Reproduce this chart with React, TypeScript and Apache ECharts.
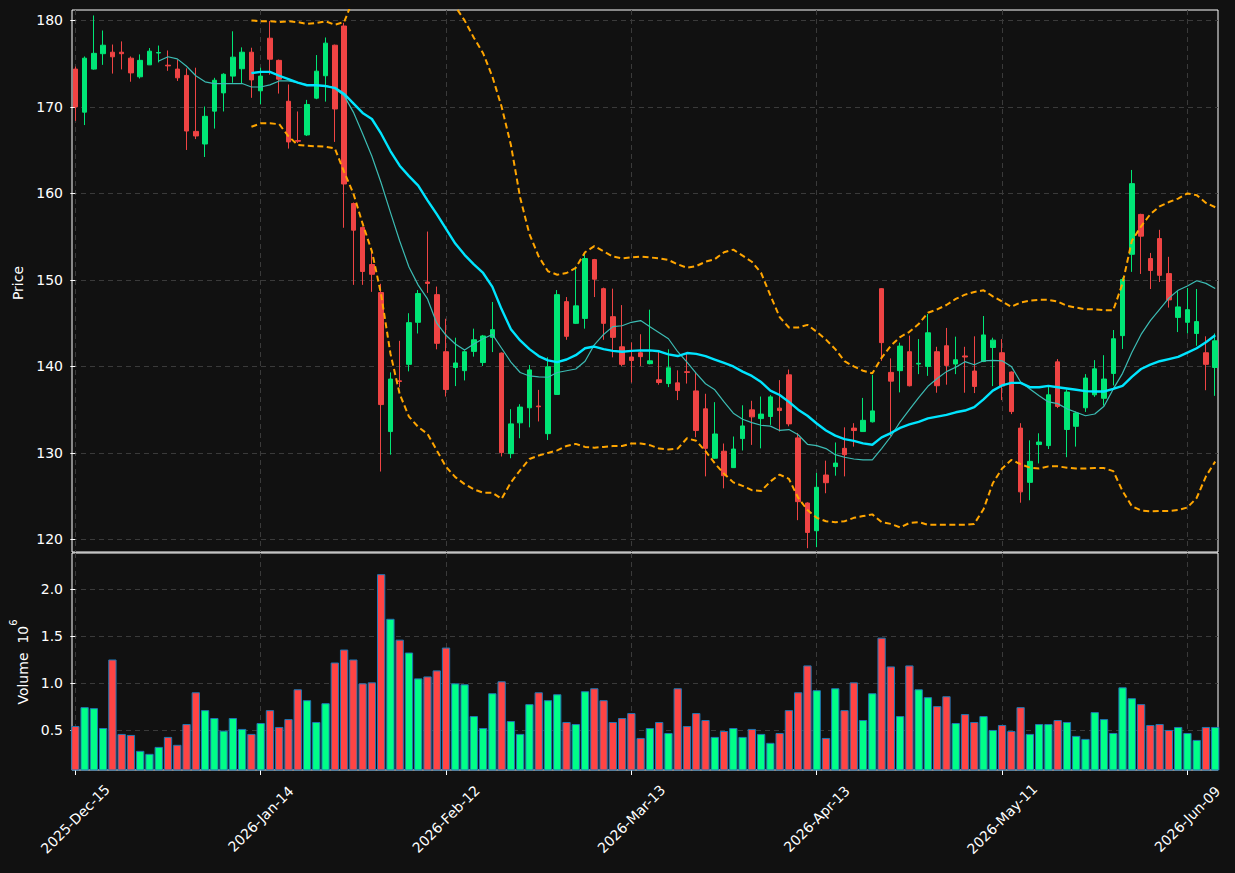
import React, { useEffect, useRef } from 'react';
import * as echarts from 'echarts';

// ---- tick labels (every 20 trading days) ----
const tickIndex = [0, 20, 40, 60, 80, 100, 120];
const tickLabels = ['2025-Dec-15', '2026-Jan-14', '2026-Feb-12', '2026-Mar-13', '2026-Apr-13', '2026-May-11', '2026-Jun-09'];
const priceTicks = [120, 130, 140, 150, 160, 170, 180];
const volumeTicks = [0.5, 1.0, 1.5, 2.0];

// ---- OHLC (trading-day index 0..123) ----
const open = [
  174.37, 169.39, 174.37, 176.15, 176.32, 176.32, 175.63, 173.48, 174.86, 176.23,
  174.82, 174.37, 173.64, 167.17, 165.71, 169.51, 171.62, 173.56, 174.41, 176.32,
  171.86, 177.94, 175.38, 170.65, 166.11, 166.76, 171.01, 173.6, 177.13, 179.35,
  158.83, 156.07, 151.78, 148.54, 132.47, 138.34, 140.24, 145.1, 149.76, 148.3,
  141.7, 139.88, 139.51, 141.74, 140.45, 143.36, 141.54, 129.92, 133.48, 135.22,
  135.42, 132.23, 136.76, 147.49, 144.98, 145.55, 152.35, 148.99, 145.75, 142.27,
  141.09, 141.58, 140.32, 138.46, 138.02, 138.1, 139.39, 137.17, 135.1, 129.39,
  130.2, 128.3, 131.66, 134.98, 133.97, 134.21, 135.18, 139.03, 131.74, 124.21,
  121.01, 127.45, 128.42, 130.53, 132.87, 132.47, 133.6, 148.99, 139.31, 139.51,
  141.7, 140.28, 140.0, 141.7, 142.39, 140.28, 141.21, 139.47, 140.57, 142.19,
  141.58, 139.35, 132.87, 126.6, 130.97, 130.85, 140.53, 132.71, 133.08, 135.22,
  136.72, 136.32, 139.19, 143.56, 152.96, 157.57, 152.47, 154.78, 150.73, 145.67,
  145.1, 143.81, 141.58, 139.88,
];
const high = [
  174.66, 175.83, 180.57, 178.83, 177.21, 177.57, 175.83, 176.07, 176.8, 177.09,
  176.52, 175.47, 174.45, 174.53, 170.04, 173.36, 173.89, 178.74, 176.88, 176.84,
  174.53, 179.92, 175.47, 172.59, 169.47, 170.81, 175.99, 178.02, 177.2, 179.72,
  158.95, 156.15, 153.48, 149.55, 139.31, 142.96, 146.15, 148.83, 155.59, 149.23,
  145.51, 143.32, 141.86, 144.37, 143.64, 147.45, 141.62, 135.06, 135.63, 140.16,
  137.29, 141.05, 148.83, 148.02, 151.54, 153.08, 152.43, 149.11, 148.99, 147.09,
  142.79, 143.72, 146.56, 141.66, 141.98, 139.55, 141.46, 139.23, 136.84, 135.87,
  131.09, 131.9, 135.51, 136.03, 136.52, 136.68, 138.42, 139.64, 132.31, 124.29,
  127.69, 129.11, 131.21, 132.96, 133.44, 136.36, 139.03, 149.05, 140.93, 142.75,
  143.56, 143.16, 146.07, 142.27, 144.45, 143.44, 142.27, 143.48, 145.83, 143.32,
  143.16, 139.43, 133.44, 131.46, 132.27, 137.61, 140.85, 137.33, 134.78, 139.11,
  140.73, 141.3, 144.21, 150.28, 162.71, 157.65, 153.12, 155.79, 152.67, 148.7,
  149.07, 148.95, 143.48, 143.81,
];
const low = [
  168.38, 167.9, 174.3, 174.86, 173.85, 174.33, 172.91, 173.28, 174.86, 175.14,
  174.17, 173.0, 165.02, 166.28, 164.21, 167.49, 169.47, 172.79, 172.71, 171.05,
  170.32, 173.72, 171.54, 165.18, 165.83, 166.64, 170.89, 170.61, 165.95, 156.03,
  149.43, 149.43, 148.62, 127.85, 129.8, 137.61, 139.43, 143.81, 148.5, 141.98,
  136.52, 137.73, 138.38, 141.13, 140.04, 141.66, 129.59, 129.39, 131.7, 132.96,
  133.64, 131.5, 136.7, 143.08, 144.9, 144.37, 148.02, 143.08, 141.05, 140.04,
  138.14, 140.04, 140.24, 137.89, 137.61, 136.11, 138.02, 131.82, 127.29, 129.31,
  125.91, 128.26, 130.28, 130.93, 130.53, 133.24, 132.47, 133.08, 122.23, 118.99,
  119.11, 125.34, 127.37, 127.29, 130.73, 132.43, 133.52, 140.65, 131.94, 137.0,
  137.69, 139.11, 138.91, 136.96, 137.89, 139.11, 136.96, 136.92, 140.5, 137.73,
  136.11, 134.49, 124.25, 124.53, 128.79, 130.45, 135.18, 129.51, 130.73, 134.74,
  136.48, 135.47, 137.81, 142.02, 150.93, 150.69, 148.95, 149.76, 146.8, 143.97,
  143.81, 142.39, 137.25, 136.6,
];
const close = [
  170.0, 175.63, 176.19, 177.13, 175.79, 176.15, 173.93, 175.38, 176.44, 176.28,
  174.74, 173.36, 167.21, 166.64, 168.91, 173.08, 173.77, 175.75, 176.32, 173.12,
  173.56, 175.51, 173.2, 165.95, 166.03, 170.28, 174.13, 177.37, 169.76, 161.09,
  155.75, 150.97, 150.65, 135.59, 138.54, 138.26, 145.06, 148.42, 149.6, 142.67,
  137.33, 140.4, 141.7, 143.08, 143.52, 144.25, 130.04, 133.36, 135.3, 139.6,
  135.34, 139.96, 148.3, 143.48, 147.0, 152.47, 150.08, 144.98, 143.36, 140.24,
  140.69, 141.13, 140.65, 138.14, 139.84, 137.21, 139.31, 132.59, 130.53, 132.19,
  127.37, 130.45, 133.12, 134.17, 134.49, 136.48, 134.9, 133.36, 124.37, 120.81,
  126.03, 126.56, 128.83, 129.8, 132.59, 133.77, 134.86, 142.75, 138.3, 142.35,
  137.77, 140.36, 143.89, 137.77, 140.12, 140.77, 141.09, 137.69, 143.64, 143.04,
  137.73, 134.78, 125.5, 129.03, 131.26, 136.72, 135.38, 137.04, 134.62, 138.66,
  139.72, 138.54, 143.2, 150.04, 161.13, 155.06, 151.09, 150.53, 147.69, 146.88,
  146.56, 145.18, 140.24, 142.96,
];

// ---- volume, millions ----
const volume = [
  0.542, 0.743, 0.732, 0.521, 1.25, 0.458, 0.447, 0.278, 0.246, 0.32,
  0.426, 0.342, 0.563, 0.901, 0.711, 0.627, 0.493, 0.627, 0.511, 0.458,
  0.574, 0.711, 0.532, 0.616, 0.933, 0.817, 0.585, 0.785, 1.218, 1.356,
  1.25, 0.996, 1.007, 2.158, 1.683, 1.461, 1.324, 1.049, 1.07, 1.134,
  1.377, 0.996, 0.986, 0.648, 0.521, 0.891, 1.018, 0.595, 0.458, 0.775,
  0.901, 0.817, 0.88, 0.585, 0.563, 0.912, 0.944, 0.817, 0.585, 0.627,
  0.68, 0.415, 0.521, 0.585, 0.468, 0.944, 0.542, 0.68, 0.606, 0.426,
  0.489, 0.521, 0.426, 0.511, 0.458, 0.363, 0.468, 0.711, 0.901, 1.187,
  0.923, 0.415, 0.944, 0.711, 1.007, 0.606, 0.891, 1.482, 1.176, 0.648,
  1.187, 0.933, 0.849, 0.754, 0.859, 0.574, 0.669, 0.585, 0.648, 0.5,
  0.553, 0.489, 0.743, 0.458, 0.563, 0.563, 0.606, 0.585, 0.437, 0.405,
  0.69, 0.616, 0.468, 0.954, 0.838, 0.775, 0.553, 0.563, 0.5, 0.532,
  0.468, 0.394, 0.532, 0.532,
];

// ---- overlay lines ----
const ma10Start = 9;
const ma10 = [
  175.3, 175.8, 175.55, 174.7, 173.6, 172.9, 172.7, 172.7, 172.7, 172.7,
  172.3, 172.3, 172.55, 173.0, 173.0, 172.8, 172.55, 172.5, 172.5, 172.1,
  171.3, 169.4, 166.9, 164.3, 161.2, 157.8, 154.5, 151.5, 149.4, 147.8,
  145.0, 143.6, 142.6, 141.9, 142.6, 143.2, 143.7, 142.1, 140.5, 139.3,
  138.9, 138.8, 138.75, 139.3, 139.5, 139.7, 140.6, 142.5, 143.7, 144.6,
  144.7, 145.1, 145.3, 144.6, 143.9, 143.2, 141.7, 140.5, 139.2, 138.0,
  137.3, 135.9, 134.6, 133.9, 133.5, 133.2, 133.1, 132.6, 132.7, 132.1,
  131.0, 130.85, 130.5, 129.8, 129.5, 129.3, 129.2, 129.2, 130.5, 131.9,
  133.6, 135.0, 136.4, 137.7, 138.6, 139.4, 139.9, 140.55, 140.2, 140.65,
  140.7, 140.65, 140.0, 138.2, 137.4, 136.6, 135.9, 135.7, 135.1, 134.7,
  134.3, 134.5, 135.4, 137.4, 139.2, 141.6, 143.7, 145.3, 146.6, 147.9,
  148.8, 149.3, 149.9, 149.6, 149.0,
];
const ma20Start = 19;
const ma20 = [
  173.9, 174.05, 174.05, 173.6, 173.2, 172.8, 172.5, 172.5, 172.4, 172.2,
  171.5, 170.4, 169.3, 168.6, 166.9, 164.9, 163.2, 162.0, 160.9, 159.2,
  157.6, 155.9, 154.2, 152.9, 151.8, 150.8, 149.2, 146.6, 144.3, 143.0,
  142.0, 141.2, 140.7, 140.5, 140.8, 141.3, 142.1, 142.3, 142.0, 141.8,
  141.7, 141.8, 141.85, 141.85, 141.75, 141.4, 141.2, 141.55, 141.45, 141.2,
  140.8, 140.4, 140.0, 139.4, 138.9, 138.2, 137.2, 136.7, 135.9, 135.0,
  134.3, 133.4, 132.6, 132.0, 131.6, 131.4, 131.1, 130.95, 131.8, 132.3,
  132.9, 133.3, 133.6, 134.0, 134.2, 134.4, 134.7, 134.9, 135.3, 136.2,
  137.2, 137.8, 138.1, 138.1, 137.6, 137.6, 137.75, 137.6, 137.45, 137.3,
  137.15, 137.1, 137.1, 137.4, 137.75, 138.8, 139.7, 140.2, 140.6, 140.85,
  141.1, 141.6, 142.1, 142.8, 143.6,
];
const bandStart = 19;
const upperBand = [
  180.0, 179.9, 179.9, 179.8, 179.9, 179.8, 179.6, 179.7, 179.9, 179.5,
  179.8, 182.5, 185.5, 188.5, 192.0, 194.5, 195.5, 194.5, 192.5, 190.0,
  187.0, 184.0, 181.6, 180.0, 178.0, 176.2, 173.5, 170.0, 165.6, 159.5,
  155.3, 152.7, 151.0, 150.6, 150.8, 151.4, 153.2, 153.9, 153.3, 152.7,
  152.5, 152.6, 152.7, 152.6, 152.5, 152.3, 151.8, 151.4, 151.6, 152.1,
  152.4, 153.2, 153.5, 152.8, 152.1, 150.8, 148.2, 145.7, 144.5, 144.5,
  144.8, 144.0, 143.1, 142.0, 140.6, 140.0, 139.5, 139.2, 141.0, 142.4,
  143.4, 144.0, 144.9, 146.2, 146.6, 147.1, 147.8, 148.3, 148.6, 148.8,
  148.1, 147.5, 146.9, 147.4, 147.6, 147.7, 147.7, 147.5, 147.0, 146.8,
  146.6, 146.6, 146.5, 146.5, 149.6, 154.5, 156.2, 157.6, 158.5, 159.0,
  159.4, 160.0, 159.8, 158.9, 158.4,
];
const lowerBand = [
  167.7, 168.1, 168.1, 168.0, 166.6, 165.6, 165.5, 165.45, 165.4, 165.2,
  162.5, 160.0, 156.5, 153.3, 148.3, 141.5, 136.8, 134.2, 133.0, 132.2,
  130.3, 128.4, 127.2, 126.4, 125.8, 125.4, 125.4, 124.7, 126.6, 128.0,
  129.3, 129.7, 130.0, 130.3, 130.8, 131.05, 130.7, 130.6, 130.7, 130.8,
  130.8, 131.1, 131.1, 130.9, 130.5, 130.4, 130.5, 131.7, 131.4, 130.2,
  128.8, 127.6, 126.6, 126.2, 125.7, 125.6, 126.7, 127.5, 127.0, 124.8,
  123.4, 122.5, 122.1, 122.0, 122.1, 122.5, 122.7, 122.9, 122.0, 121.8,
  121.4, 121.9, 122.0, 121.7, 121.7, 121.7, 121.7, 121.7, 121.8, 123.5,
  126.5, 128.2, 129.2, 128.7, 128.3, 128.2, 128.45, 128.45, 128.3, 128.2,
  128.2, 128.25, 128.25, 127.9, 125.6, 123.85, 123.35, 123.25, 123.3, 123.3,
  123.4, 123.7, 124.8, 127.3, 129.0,
];

const BG = '#111111';
const UP = '#00e676';
const DOWN = '#ef4444';
const VUP = '#00ff88';
const VDOWN = '#ff4444';
const GRIDLINE = '#3a3a3a';
const FONT = 'DejaVu Sans';

const XMIN = -0.36;
const XMAX = 123.3;

function pairs(start: number, arr: number[]) {
  return arr.map((v, i) => [start + i, v]);
}

export default function App() {
  const ref = useRef<HTMLDivElement>(null);

  useEffect(() => {
    document.body.style.margin = '0';
    document.body.style.background = BG;
    const chart = echarts.init(ref.current!, null, { renderer: 'svg' });

    const splitLine = { show: true, lineStyle: { color: GRIDLINE, width: 1, type: [5, 4] } };
    const xLabelFmt = (v: number) => {
      const k = tickIndex.indexOf(Math.round(v));
      return k >= 0 ? tickLabels[k] : '';
    };

    const option: any = {
      animation: false,
      backgroundColor: BG,
      textStyle: { fontFamily: FONT },
      grid: [
        { left: 72, top: 10, width: 1146, height: 542, show: true, borderColor: '#ffffff', borderWidth: 1, backgroundColor: 'transparent' },
        { left: 72, top: 553, width: 1146, height: 217, show: true, borderColor: '#ffffff', borderWidth: 1, backgroundColor: 'transparent' },
      ],
      xAxis: [
        {
          type: 'value', gridIndex: 0, min: XMIN, max: XMAX,
          axisLine: { show: false },
          axisTick: { show: false, customValues: tickIndex },
          axisLabel: { show: false, customValues: tickIndex },
          splitLine,
        },
        {
          type: 'value', gridIndex: 1, min: XMIN, max: XMAX,
          axisLine: { show: false },
          axisTick: { show: true, customValues: tickIndex, length: 5, lineStyle: { color: '#ffffff' } },
          axisLabel: {
            customValues: tickIndex, formatter: xLabelFmt, rotate: 45, align: 'center', verticalAlign: 'middle',
            margin: 49, color: '#ffffff', fontSize: 14, fontFamily: FONT,
          },
          splitLine,
        },
      ],
      yAxis: [
        {
          type: 'value', gridIndex: 0, min: 118.55, max: 181.2, scale: true,
          axisLine: { show: false },
          axisTick: { show: true, customValues: priceTicks, length: 5, lineStyle: { color: '#ffffff' } },
          axisLabel: { customValues: priceTicks, color: '#ffffff', fontSize: 14, fontFamily: FONT, margin: 9, formatter: (v: number) => String(Math.round(v)) },
          splitLine,
        },
        {
          type: 'value', gridIndex: 1, min: 0.074, max: 2.383, scale: true,
          axisLine: { show: false },
          axisTick: { show: true, customValues: volumeTicks, length: 5, lineStyle: { color: '#ffffff' } },
          axisLabel: { customValues: volumeTicks, color: '#ffffff', fontSize: 14, fontFamily: FONT, margin: 9, formatter: (v: number) => v.toFixed(1) },
          splitLine,
        },
      ],
      graphic: [
        {
          type: 'text', x: 18, y: 283, rotation: Math.PI / 2,
          style: { text: 'Price', fill: '#ffffff', font: `14px "${FONT}"`, align: 'center', verticalAlign: 'middle' },
        },
        {
          type: 'text', x: 19, y: 662, rotation: Math.PI / 2,
          style: {
            text: '{a|Volume  10}{b|6}', align: 'center', verticalAlign: 'middle',
            rich: {
              a: { fill: '#ffffff', fontSize: 14, fontFamily: FONT, lineHeight: 22, verticalAlign: 'bottom' },
              b: { fill: '#ffffff', fontSize: 10, fontFamily: FONT, lineHeight: 12, verticalAlign: 'top' },
            },
          },
        },
      ],
      series: [
        {
          type: 'candlestick', name: 'OHLC', xAxisIndex: 0, yAxisIndex: 0,
          data: open.map((o, i) => [i, o, close[i], low[i], high[i]]),
          encode: { x: 0, y: [1, 2, 3, 4] },
          barWidth: 5.0,
          itemStyle: { color: UP, color0: DOWN, borderColor: UP, borderColor0: DOWN, borderWidth: 1 },
        },
        {
          type: 'line', name: 'MA10', xAxisIndex: 0, yAxisIndex: 0, data: pairs(ma10Start, ma10),
          symbol: 'none', lineStyle: { color: '#3cbcb4', width: 1.2 }, z: 3,
        },
        {
          type: 'line', name: 'MA20', xAxisIndex: 0, yAxisIndex: 0, data: pairs(ma20Start, ma20),
          symbol: 'none', lineStyle: { color: '#00e5ff', width: 2.4 }, z: 4,
        },
        {
          type: 'line', name: 'Upper', xAxisIndex: 0, yAxisIndex: 0, data: pairs(bandStart, upperBand),
          symbol: 'none', lineStyle: { color: '#ffa500', width: 2, type: [6, 3.5] }, z: 4,
        },
        {
          type: 'line', name: 'Lower', xAxisIndex: 0, yAxisIndex: 0, data: pairs(bandStart, lowerBand),
          symbol: 'none', lineStyle: { color: '#ffa500', width: 2, type: [6, 3.5] }, z: 4,
        },
        {
          type: 'bar', name: 'Volume', xAxisIndex: 1, yAxisIndex: 1, barWidth: 8.3,
          data: volume.map((v, i) => ({
            value: [i, v],
            itemStyle: { color: close[i] >= open[i] ? VUP : VDOWN },
          })),
          itemStyle: { borderColor: '#1f77b4', borderWidth: 1 },
        },
      ],
    };

    chart.setOption(option);
    return () => chart.dispose();
  }, []);

  return <div ref={ref} style={{ position: 'fixed', left: 0, top: 0, width: 1235, height: 873 }} />;
}
